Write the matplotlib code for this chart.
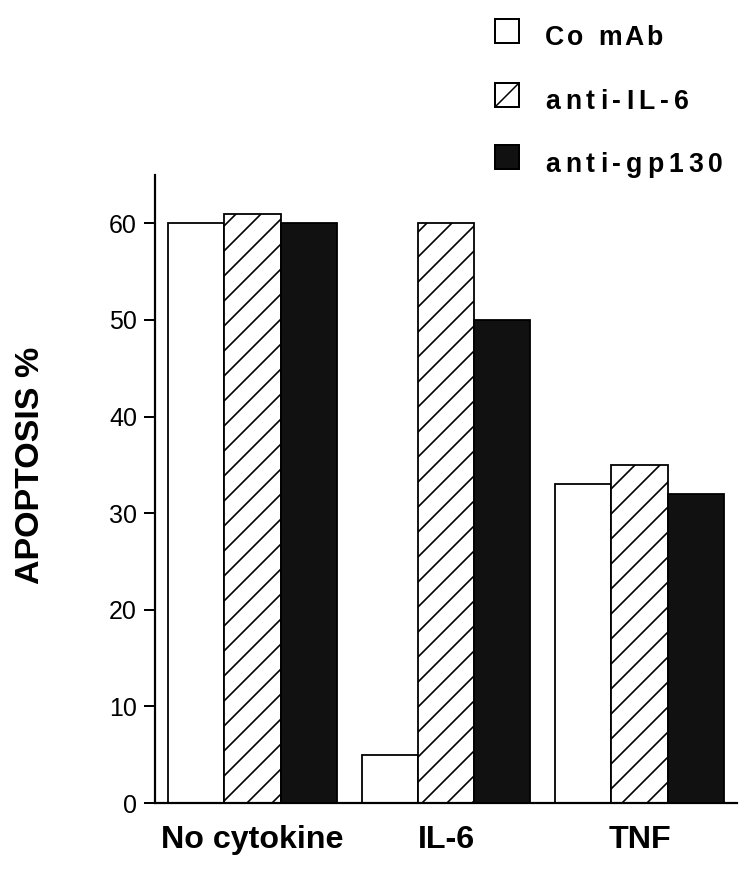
import matplotlib
matplotlib.use('Agg')
import matplotlib.pyplot as plt
from matplotlib.patches import Rectangle
from matplotlib.lines import Line2D
import numpy as np

plt.rcParams['font.family'] = ['Liberation Sans', 'DejaVu Sans']
plt.rcParams['hatch.linewidth'] = 0.8

groups = ['No cytokine', 'IL-6', 'TNF']
series = ['Co mAb', 'anti-IL-6', 'anti-gp130']
co_mab = [60, 5, 33]
anti_il6 = [61, 60, 35]
anti_gp130 = [60, 50, 32]
yticks = [0, 10, 20, 30, 40, 50, 60]

W, H, DPI = 754, 876, 150
PX = 72 / DPI  # points per pixel

fig = plt.figure(figsize=((W + 0.01) / DPI, (H + 0.01) / DPI), dpi=DPI)
ax = fig.add_axes([155 / W, 73 / H, 582 / W, 628 / H])

x = np.arange(len(groups))
w = 0.29
styles = [dict(facecolor='white'),
          dict(facecolor='white', hatch='//'),
          dict(facecolor='#111111')]
for i, (vals, st) in enumerate(zip([co_mab, anti_il6, anti_gp130], styles)):
    ax.bar(x + (i - 1) * w, vals, w, edgecolor='black', linewidth=1.8 * PX, **st)

ax.set_xlim(-0.504, 2.504)
ax.set_ylim(0, 65)
for s in ['top', 'right']:
    ax.spines[s].set_visible(False)
for s in ['left', 'bottom']:
    ax.spines[s].set_linewidth(2.2 * PX)

ax.set_yticks(yticks)
ax.tick_params(axis='y', direction='out', length=11 * PX, width=2 * PX,
               labelsize=12, pad=7 * PX)
ax.set_xticks(x, groups, fontweight='bold', fontsize=15.5)
ax.tick_params(axis='x', length=0, pad=22 * PX)

fig.text(30 / W, 1 - 465 / H, 'APOPTOSIS %', rotation=90, fontsize=16.3,
         fontweight='bold', ha='center', va='center')

# legend drawn by hand, with letter-spaced labels
renderer = fig.canvas.get_renderer()


def tracked_text(x0, y0, s, track, size, space=0.28):
    xp = x0
    for ch in s:
        if ch == ' ':
            xp += space * size / PX + track
            continue
        t = fig.text(xp / W, 1 - y0 / H, ch, fontsize=size, fontweight='bold',
                     va='baseline', ha='left')
        bb = t.get_window_extent(renderer)
        xp += bb.width + track


sq = 24
rows_top = [19, 83, 145]
baselines = [45, 109, 172]
tracks = [2.5, 5, 5]
fills = ['white', 'white', '#111111']
for i, name in enumerate(series):
    y0 = rows_top[i]
    r = Rectangle((495 / W, 1 - (y0 + sq) / H), sq / W, sq / H,
                  transform=fig.transFigure, facecolor=fills[i],
                  edgecolor='black', linewidth=2 * PX)
    fig.add_artist(r)
    if i == 1:
        fig.add_artist(Line2D([495 / W, (495 + sq) / W],
                              [1 - (y0 + sq) / H, 1 - y0 / H],
                              transform=fig.transFigure, color='black',
                              linewidth=1.5 * PX))
    tracked_text(545, baselines[i], name, tracks[i], 12.8, space=0.4)

fig.savefig('out.png', dpi=DPI)
